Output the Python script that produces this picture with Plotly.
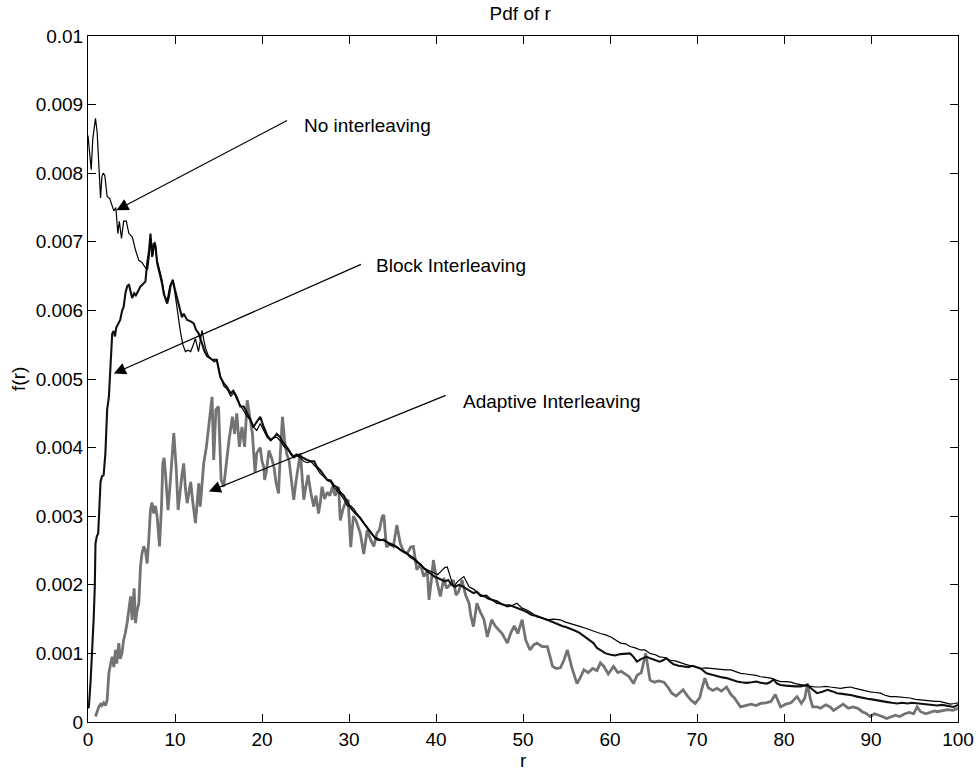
import plotly.graph_objects as go

# r values and densities (in units of 1e-3) for the three interleaving schemes
r_none = [0.0, 0.2, 0.37, 0.55, 0.86, 1.05, 1.25, 1.44, 1.6, 1.75, 1.93, 2.2, 2.5, 2.75, 2.97, 3.2,
          3.43, 3.6, 3.85, 4.1, 4.4, 4.7, 5.1, 5.46, 5.84, 6.2, 6.6, 6.85, 7.0, 7.2, 7.45, 7.7,
          7.9, 8.2, 8.5, 8.8, 9.1, 9.4, 9.75, 10.05, 10.3, 10.6, 10.9, 11.2, 11.5, 11.8, 12.1,
          12.35, 12.7, 13.1, 13.5, 13.8, 14.1, 14.5, 14.8, 15.2, 15.6, 16.0, 16.4, 16.8, 17.1,
          17.5, 17.9, 18.3, 18.7, 19.0, 19.4, 19.8, 20.2, 20.6, 21.0, 21.4, 21.7, 22.1, 22.5,
          22.9, 23.3, 23.65, 24.0, 24.4, 24.8, 25.2, 25.6, 25.95, 26.3, 26.7, 27.1, 27.5, 27.9,
          28.25, 28.6, 29.0, 29.4, 29.8, 30.2, 30.6, 30.9, 31.3, 31.7, 32.1, 32.5, 32.9, 33.2,
          33.6, 34.0, 34.4, 34.8, 35.2, 35.5, 36.0, 36.4, 36.7, 37.1, 37.4, 37.8, 38.2, 38.6,
          39.0, 39.4, 39.8, 40.2, 40.6, 41.0, 41.3, 41.7, 42.0, 42.5, 43.2, 43.8, 44.4, 45.1,
          45.8, 46.4, 47.0, 47.6, 48.2, 48.8, 49.3, 49.9, 50.5, 51.1, 51.6, 52.2, 52.8, 53.5,
          54.3, 54.8, 55.4, 56.0, 56.6, 57.1, 57.7, 58.3, 58.9, 59.5, 60.1, 60.6, 61.2, 61.8,
          62.3, 62.9, 63.5, 64.0, 64.6, 65.2, 65.7, 66.3, 66.9, 67.5, 68.1, 68.7, 69.3, 70.4,
          71.0, 71.6, 72.2, 72.7, 73.3, 73.9, 74.5, 75.0, 75.6, 76.2, 76.8, 77.3, 77.9, 78.5,
          79.1, 79.6, 80.2, 80.8, 81.3, 81.9, 82.5, 83.1, 83.6, 84.2, 84.8, 85.3, 85.9, 86.5,
          87.0, 87.6, 88.2, 88.8, 89.3, 89.9, 90.5, 91.1, 91.6, 92.2, 92.8, 93.4, 94.0, 94.5,
          95.1, 95.7, 96.3, 96.8, 97.4, 97.9, 98.5, 99.1, 99.6, 100.0]
f_none = [8.55, 8.3, 8.05, 8.5, 8.8, 8.6, 8.0, 7.64, 7.95, 8.0, 7.97, 7.66, 7.63, 7.55, 7.45, 7.5,
          7.12, 7.3, 7.05, 7.3, 7.3, 7.12, 7.07, 6.88, 6.73, 6.7, 6.62, 6.6, 6.75, 7.05, 6.8, 7.0,
          6.75, 6.6, 6.45, 6.2, 6.15, 6.35, 6.45, 6.2, 5.95, 5.71, 5.5, 5.4, 5.42, 5.4, 5.5,
          5.59, 5.4, 5.71, 5.45, 5.35, 5.3, 5.25, 5.28, 5.05, 4.9, 4.85, 4.75, 4.8, 4.7,
          4.62, 4.55, 4.45, 4.4, 4.3, 4.25, 4.35, 4.25, 4.15, 4.1, 4.15, 4.15, 4.1, 4.02,
          3.98, 3.9, 3.85, 3.88, 3.85, 3.8, 3.78, 3.8, 3.75, 3.7, 3.62, 3.58, 3.52, 3.5,
          3.42, 3.38, 3.32, 3.25, 3.15, 3.15, 3.1, 3.04, 2.98, 2.9, 2.82, 2.76, 2.7, 2.68,
          2.66, 2.64, 2.62, 2.6, 2.58, 2.55, 2.5, 2.48, 2.45, 2.42, 2.4, 2.35, 2.3, 2.25,
          2.22, 2.2, 2.18, 2.15, 2.2, 2.25, 2.26, 2.1, 1.97, 2.05, 2.12, 1.97, 1.93, 1.83,
          1.85, 1.78, 1.73, 1.72, 1.68, 1.7, 1.73, 1.66, 1.63, 1.58, 1.53, 1.52, 1.49, 1.5,
          1.49, 1.46, 1.44, 1.42, 1.39, 1.37, 1.34, 1.32, 1.29, 1.27, 1.24, 1.2, 1.15, 1.14,
          1.1, 1.08, 1.05, 1.05, 1.0, 0.98, 0.95, 0.94, 0.9, 0.89, 0.86, 0.84, 0.82, 0.78,
          0.79, 0.78, 0.77, 0.76, 0.76, 0.76, 0.73, 0.71, 0.7, 0.69, 0.68, 0.66, 0.65, 0.64,
          0.61, 0.59, 0.59, 0.58, 0.56, 0.54, 0.53, 0.52, 0.51, 0.51, 0.52, 0.51, 0.5, 0.49,
          0.5, 0.51, 0.49, 0.47, 0.46, 0.44, 0.43, 0.42, 0.39, 0.37, 0.37, 0.36, 0.36, 0.35,
          0.33, 0.32, 0.32, 0.31, 0.3, 0.3, 0.28, 0.26, 0.27, 0.28]

r_block = [0.0, 0.1, 0.3, 0.48, 0.65, 0.78, 0.86, 1.0, 1.17, 1.3, 1.44, 1.6, 1.8, 2.0, 2.1, 2.2,
           2.4, 2.5, 2.6, 2.78, 2.95, 3.1, 3.25, 3.4, 3.7, 3.93, 4.1, 4.3, 4.5, 4.7, 4.9, 5.07,
           5.3, 5.5, 5.84, 6.03, 6.3, 6.6, 6.8, 7.0, 7.18, 7.37, 7.56, 7.75, 7.95, 8.15, 8.33,
           8.5, 8.7, 9.1, 9.3, 9.48, 9.75, 10.0, 10.4, 10.6, 10.8, 11.0, 11.4, 11.8, 12.15,
           12.4, 12.7, 13.1, 13.4, 13.7, 14.0, 14.3, 14.8, 15.2, 15.6, 16.0, 16.4, 16.7, 17.1,
           17.5, 17.9, 18.3, 18.7, 19.0, 19.4, 19.8, 20.2, 20.6, 21.0, 21.4, 21.7, 22.1, 22.5,
           22.9, 23.3, 23.6, 24.0, 24.4, 24.8, 25.2, 25.6, 26.0, 26.3, 26.7, 27.1, 27.5, 27.9,
           28.25, 28.6, 29.0, 29.4, 29.8, 30.2, 30.6, 30.9, 31.3, 31.7, 32.1, 32.5, 32.9, 33.2,
           33.6, 34.0, 34.4, 34.8, 35.2, 35.5, 36.0, 36.4, 36.7, 37.1, 37.4, 37.8, 38.2, 38.6,
           39.0, 39.4, 39.8, 40.2, 40.6, 41.0, 41.4, 41.8, 42.2, 42.6, 43.0, 43.4, 43.8, 44.3,
           44.7, 45.1, 45.6, 46.0, 46.5, 47.0, 47.5, 48.0, 48.5, 49.0, 49.5, 50.0, 50.5, 51.0,
           51.5, 52.0, 52.5, 53.0, 53.5, 54.0, 54.5, 55.0, 55.5, 56.0, 56.5, 57.0, 57.5, 58.1,
           58.5, 58.9, 59.5, 60.1, 60.6, 61.2, 61.8, 62.3, 62.7, 63.1, 63.6, 64.2, 64.6, 65.2,
           65.7, 66.1, 66.5, 66.9, 67.3, 67.9, 68.4, 69.0, 69.5, 70.0, 70.4, 71.1, 71.7, 72.3,
           72.9, 73.4, 74.0, 74.6, 75.1, 75.7, 76.3, 76.8, 77.4, 78.0, 78.4, 78.8, 79.2, 79.6,
           80.2, 80.8, 81.3, 81.9, 82.3, 82.7, 83.2, 83.8, 84.4, 85.0, 85.5, 86.1, 86.7, 87.3,
           87.8, 88.4, 89.0, 89.6, 90.1, 90.7, 91.3, 91.9, 92.4, 93.0, 93.6, 94.2, 94.7, 95.3,
           95.9, 96.4, 97.0, 97.6, 98.2, 98.8, 99.5, 100.0]
f_block = [0.2, 0.22, 0.6, 1.0, 1.5, 1.97, 2.6, 2.7, 2.75, 3.1, 3.5, 3.58, 3.6, 3.92, 4.3, 4.55,
           4.74, 5.0, 5.37, 5.66, 5.7, 5.62, 5.75, 5.78, 5.86, 6.0, 6.05, 6.25, 6.35, 6.38, 6.28, 6.18,
           6.25, 6.22, 6.3, 6.35, 6.38, 6.42, 6.69, 6.85, 7.12, 6.78, 6.98, 6.95, 6.69, 6.6, 6.49,
           6.4, 6.25, 6.1, 6.2, 6.35, 6.44, 6.3, 6.1, 5.96, 5.9, 5.95, 5.86, 5.84, 5.81,
           5.72, 5.67, 5.52, 5.4, 5.33, 5.3, 5.28, 5.28, 5.03, 4.94, 4.88, 4.79, 4.83, 4.74,
           4.6, 4.6, 4.5, 4.4, 4.3, 4.38, 4.45, 4.3, 4.18, 4.11, 4.15, 4.2, 4.15, 4.06,
           4.0, 3.92, 3.87, 3.9, 3.87, 3.84, 3.82, 3.8, 3.8, 3.72, 3.67, 3.6, 3.53, 3.52,
           3.45, 3.42, 3.35, 3.3, 3.2, 3.12, 3.06, 3.02, 2.97, 2.9, 2.83, 2.77, 2.7, 2.66,
           2.65, 2.66, 2.62, 2.58, 2.57, 2.55, 2.5, 2.47, 2.45, 2.4, 2.38, 2.33, 2.3, 2.24,
           2.2, 2.16, 2.12, 2.1, 2.08, 2.05, 2.07, 2.0, 1.97, 2.0, 1.98, 1.95, 1.92, 1.88,
           1.9, 1.85, 1.83, 1.8, 1.78, 1.76, 1.72, 1.7, 1.7, 1.68, 1.66, 1.63, 1.6, 1.56,
           1.55, 1.52, 1.5, 1.48, 1.45, 1.42, 1.4, 1.38, 1.36, 1.33, 1.3, 1.25, 1.2, 1.15,
           1.08, 1.05, 1.0, 0.98, 0.97, 0.99, 1.0, 1.0, 0.95, 0.88, 0.92, 0.95, 0.93, 0.9,
           0.88, 0.9, 0.93, 0.88, 0.84, 0.82, 0.81, 0.8, 0.82, 0.8, 0.78, 0.71, 0.69, 0.66,
           0.65, 0.64, 0.61, 0.59, 0.58, 0.57, 0.58, 0.59, 0.57, 0.56, 0.58, 0.62, 0.56, 0.54,
           0.53, 0.52, 0.52, 0.52, 0.53, 0.54, 0.48, 0.42, 0.44, 0.47, 0.45, 0.42, 0.41, 0.4,
           0.39, 0.37, 0.36, 0.34, 0.33, 0.32, 0.31, 0.29, 0.28, 0.27, 0.28, 0.27, 0.28, 0.27,
           0.26, 0.25, 0.25, 0.24, 0.25, 0.24, 0.22, 0.25]

r_adapt = [0.86, 1.05, 1.24, 1.45, 1.6, 1.8, 2.0, 2.2, 2.4, 2.6, 2.78, 2.97, 3.16, 3.3, 3.54, 3.7,
           3.9, 4.1, 4.3, 4.5, 4.7, 4.9, 5.07, 5.2, 5.3, 5.46, 5.6, 5.84, 6.03, 6.2, 6.4, 6.6,
           6.8, 6.98, 7.18, 7.35, 7.56, 7.75, 7.95, 8.22, 8.45, 8.6, 8.75, 8.9, 9.05, 9.2, 9.4,
           9.6, 9.86, 10.0, 10.13, 10.36, 10.6, 10.8, 11.0, 11.2, 11.4, 11.6, 11.8, 12.05, 12.35,
           12.55, 12.73, 12.9, 13.1, 13.3, 13.6, 13.96, 14.26, 14.45, 14.7, 15.0, 15.3, 15.6,
           15.9, 16.2, 16.6, 16.85, 17.1, 17.4, 17.7, 18.0, 18.3, 18.6, 18.9, 19.2, 19.4, 19.8,
           20.0, 20.2, 20.3, 20.5, 20.8, 21.1, 21.4, 21.6, 21.9, 22.1, 22.35, 22.6, 22.85, 23.1,
           23.4, 23.65, 23.9, 24.1, 24.4, 24.6, 24.8, 25.0, 25.3, 25.6, 25.95, 26.2, 26.5, 26.7,
           26.9, 27.2, 27.5, 27.8, 28.1, 28.4, 28.8, 29.0, 29.3, 29.6, 29.9, 30.2, 30.5, 30.8,
           31.3, 31.7, 32.1, 32.5, 32.85, 33.2, 33.5, 33.8, 34.0, 34.3, 34.7, 35.1, 35.5, 35.9,
           36.3, 36.7, 37.1, 37.4, 37.8, 38.2, 38.6, 39.0, 39.2, 39.5, 39.7, 40.1, 40.5, 40.9,
           41.2, 41.6, 42.0, 42.3, 42.6, 43.0, 43.4, 43.8, 44.0, 44.3, 44.7, 45.1, 45.5, 45.9,
           46.4, 46.8, 47.2, 47.6, 48.2, 48.6, 49.0, 49.4, 49.9, 50.3, 50.8, 51.2, 51.6, 52.2,
           52.8, 53.1, 53.4, 53.8, 54.3, 54.7, 55.1, 55.6, 56.2, 56.6, 57.0, 57.5, 58.0, 58.5,
           58.9, 59.3, 59.8, 60.4, 60.9, 61.3, 61.8, 62.2, 62.7, 63.1, 63.6, 64.1, 64.6, 65.1,
           65.6, 66.2, 66.7, 67.1, 67.6, 68.0, 68.4, 68.9, 69.3, 69.8, 70.3, 70.6, 70.9, 71.3,
           71.8, 72.3, 72.8, 73.4, 73.9, 74.3, 74.7, 75.0, 75.6, 76.2, 76.8, 77.3, 77.9, 78.5,
           79.0, 79.3, 79.6, 80.2, 80.8, 81.5, 82.0, 82.4, 82.7, 83.0, 83.3, 83.8, 84.2, 84.8,
           85.3, 85.7, 86.3, 86.8, 87.4, 87.9, 88.5, 89.0, 89.5, 89.9, 90.4, 90.9, 91.3, 91.8,
           92.3, 92.8, 93.3, 93.9, 94.4, 94.9, 95.3, 95.7, 96.3, 96.8, 97.3, 97.6, 98.2, 98.8,
           99.4, 100.0]
f_adapt = [0.08, 0.15, 0.22, 0.26, 0.24, 0.28, 0.24, 0.32, 0.71, 0.85, 0.95, 0.8, 1.05, 0.85, 1.15, 0.92,
           1.0, 1.2, 1.3, 1.45, 1.63, 1.83, 1.49, 1.8, 1.95, 1.44, 1.6, 1.73, 2.26, 2.45, 2.56, 2.5,
           2.31, 2.65, 3.09, 3.2, 3.04, 3.15, 2.99, 2.56, 3.14, 3.77, 3.85, 3.63, 3.3, 3.09, 3.4,
           3.8, 4.21, 3.95, 3.72, 3.09, 3.4, 3.6, 3.77, 3.4, 3.19, 3.35, 3.5, 3.2, 2.9,
           3.2, 3.48, 3.14, 3.4, 3.77, 4.0, 4.4, 4.74, 3.82, 4.55, 4.6, 3.53, 3.43,
           3.82, 4.1, 4.45, 4.2, 4.5, 4.01, 4.3, 4.01, 4.69, 4.45, 4.2, 3.63, 3.92, 4.0,
           3.8, 3.72, 3.53, 3.65, 3.96, 3.85, 3.7, 3.5, 3.33, 3.9, 4.45, 4.1, 3.9, 3.82,
           3.5, 3.24, 3.5, 3.7, 3.92, 3.6, 3.24, 3.4, 3.6, 3.35, 3.14, 3.3, 3.04, 3.2,
           3.43, 3.25, 3.35, 3.3, 3.43, 3.3, 3.43, 2.94, 3.1, 3.2, 3.24, 2.55, 3.0, 2.94,
           2.75, 2.45, 2.8, 2.65, 2.56, 2.75, 2.8, 2.99, 3.02, 2.55, 2.6, 2.56, 2.87, 2.6,
           2.48, 2.46, 2.55, 2.56, 2.22, 2.3, 2.12, 2.2, 1.78, 2.1, 2.36, 2.05, 1.83, 2.1,
           1.95, 2.0, 2.07, 1.85, 1.9, 2.07, 1.85, 1.73, 1.55, 1.39, 1.73, 1.6, 1.5, 1.24,
           1.49, 1.4, 1.35, 1.29, 1.15, 1.3, 1.4, 1.29, 1.49, 1.2, 1.05, 1.12, 1.15, 1.1,
           1.1, 0.95, 0.81, 0.78, 0.79, 0.9, 1.05, 0.8, 0.56, 0.65, 0.76, 0.72, 0.78, 0.75,
           0.86, 0.81, 0.7, 0.81, 0.72, 0.74, 0.7, 0.66, 0.56, 0.68, 0.72, 1.0, 0.61, 0.58,
           0.6, 0.58, 0.5, 0.42, 0.38, 0.43, 0.47, 0.38, 0.32, 0.27, 0.35, 0.5, 0.64, 0.5,
           0.46, 0.49, 0.45, 0.51, 0.4, 0.35, 0.28, 0.22, 0.24, 0.26, 0.24, 0.27, 0.28, 0.3,
           0.4, 0.3, 0.22, 0.26, 0.28, 0.37, 0.27, 0.35, 0.56, 0.35, 0.22, 0.22, 0.2, 0.25,
           0.22, 0.17, 0.22, 0.26, 0.2, 0.22, 0.2, 0.15, 0.12, 0.08, 0.12, 0.1, 0.08, 0.05,
           0.08, 0.1, 0.08, 0.12, 0.14, 0.12, 0.22, 0.15, 0.12, 0.14, 0.16, 0.15, 0.16, 0.18,
           0.17, 0.2]

x_ticks = [0, 10, 20, 30, 40, 50, 60, 70, 80, 90, 100]
y_ticks = [0, 0.001, 0.002, 0.003, 0.004, 0.005, 0.006, 0.007, 0.008, 0.009, 0.01]
y_tick_text = ["0", "0.001", "0.002", "0.003", "0.004", "0.005", "0.006", "0.007", "0.008", "0.009", "0.01"]

# arrow labels: (text, tip r, tip f, tail r, tail f, text r, text f), f in units of 1e-3
labels = [
    ("No interleaving", 3.27, 7.46, 23.05, 8.78, 24.55, 8.70),
    ("Block Interleaving", 2.97, 5.08, 31.55, 6.68, 32.9, 6.65),
    ("Adaptive Interleaving", 13.89, 3.36, 41.29, 4.77, 42.9, 4.67),
]

FONT = "Liberation Sans, Arial, Helvetica, sans-serif"
FS = 19

def scale(vals):
    return [v * 1e-3 for v in vals]

fig = go.Figure()
fig.add_trace(go.Scatter(x=r_adapt, y=scale(f_adapt), mode="lines",
                         line=dict(color="#737373", width=2.8), name="Adaptive Interleaving"))
fig.add_trace(go.Scatter(x=r_block, y=scale(f_block), mode="lines",
                         line=dict(color="#111111", width=2.1), name="Block Interleaving"))
fig.add_trace(go.Scatter(x=r_none, y=scale(f_none), mode="lines",
                         line=dict(color="#000000", width=1.2), name="No interleaving"))

annotations = []
for text, tx, ty, ax, ay, lx, ly in labels:
    annotations.append(dict(x=tx, y=ty * 1e-3, ax=ax, ay=ay * 1e-3, xref="x", yref="y",
                            axref="x", ayref="y", text="", showarrow=True,
                            arrowhead=2, arrowsize=2.0, arrowwidth=1.2, arrowcolor="#000"))
    annotations.append(dict(x=lx, y=ly * 1e-3, xref="x", yref="y", text=text, showarrow=False,
                            xanchor="left", yanchor="middle",
                            font=dict(family=FONT, size=FS, color="#000")))

# axis titles
annotations.append(dict(x=0.5, y=-0.0555, xref="paper", yref="paper", text="r",
                        showarrow=False, xanchor="center", yanchor="middle",
                        font=dict(family=FONT, size=FS, color="#000")))
annotations.append(dict(x=-0.0805, y=0.5, xref="paper", yref="paper", text="f(r)",
                        showarrow=False, xanchor="center", yanchor="middle", textangle=-90,
                        font=dict(family=FONT, size=FS, color="#000")))

axis_common = dict(showgrid=False, zeroline=False, showline=True, linecolor="#000",
                   linewidth=1, mirror="ticks", ticks="inside", ticklen=8, tickwidth=1,
                   tickcolor="#000", automargin=False,
                   tickfont=dict(family=FONT, size=FS, color="#000"))

fig.update_layout(
    width=976, height=771,
    margin=dict(l=88, r=18, t=36, b=49),
    paper_bgcolor="white", plot_bgcolor="white",
    showlegend=False,
    title=dict(text="Pdf of r", x=0.533, xanchor="center", y=1 - 13 / 771, yanchor="middle",
               yref="container", font=dict(family=FONT, size=FS, color="#000")),
    xaxis=dict(range=[0, 100], tickvals=x_ticks, **axis_common),
    yaxis=dict(range=[0, 0.01], tickvals=y_ticks, ticktext=y_tick_text, **axis_common),
    annotations=annotations,
)

fig.write_html("out.html")
